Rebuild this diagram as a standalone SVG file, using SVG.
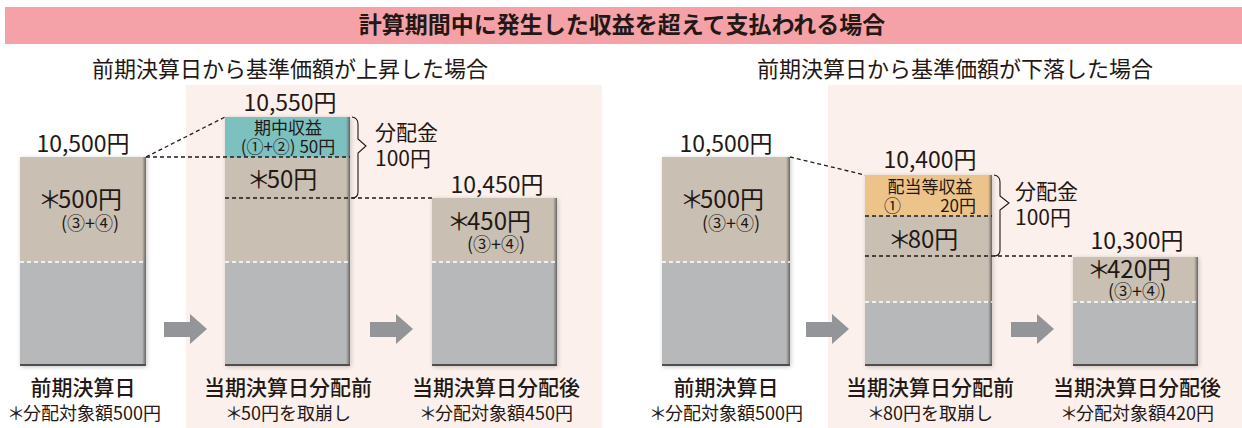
<svg xmlns="http://www.w3.org/2000/svg" width="1242" height="428" viewBox="0 0 1242 428">
<defs>
<style>
text{font-family:"Noto Sans CJK JP","Noto Sans",sans-serif;fill:#231815}
.t{font-size:23px;font-weight:bold}
.sub{font-size:22px}
.val{font-size:23px}
.bm{font-size:21px}
.big{font-size:24px}
.pc{font-size:18px}
.in{font-size:17px}
.lab{font-size:21px;font-weight:500}
.note{font-size:18px}
.tan{fill:#c9c0b3}
.gray{fill:#b7b8ba}
.teal{fill:#7cc0bf}
.ora{fill:#ecc389}
.wd{stroke:#ffffff;stroke-width:1.4;stroke-dasharray:4 3;fill:none}
.bd{stroke:#231815;stroke-width:1.3;stroke-dasharray:4 3;fill:none}
.br{stroke:#231815;stroke-width:1.1;fill:none}
.arr{fill:#939598}
.peach{fill:#fbf0eb}
.edgeR{fill:url(#gR)}
.edgeB{fill:#4f4e4c}
</style>
<linearGradient id="gR" x1="0" y1="0" x2="1" y2="0">
<stop offset="0" stop-color="#6f6c68" stop-opacity="0"/>
<stop offset="1" stop-color="#5a5855" stop-opacity="0.9"/>
</linearGradient>
<filter id="sh" x="-10%" y="-10%" width="120%" height="120%">
<feGaussianBlur in="SourceAlpha" stdDeviation="2.2"/>
<feOffset dx="1" dy="1" result="b"/>
<feFlood flood-color="#9a9a9a" flood-opacity="0.55"/>
<feComposite in2="b" operator="in"/>
<feMerge><feMergeNode/><feMergeNode in="SourceGraphic"/></feMerge>
</filter>
</defs>

<g id="background">
<rect x="5" y="7" width="1237" height="37" fill="#f4a1a7"/>
<rect class="peach" x="186" y="85" width="416" height="343"/>
<rect class="peach" x="828" y="85" width="414" height="343"/>
</g>

<g id="titles">
<text class="t" x="622" y="33" text-anchor="middle">計算期間中に発生した収益を超えて支払われる場合</text>
<text class="sub" x="290" y="77" text-anchor="middle">前期決算日から基準価額が上昇した場合</text>
<text class="sub" x="955" y="77" text-anchor="middle">前期決算日から基準価額が下落した場合</text>
</g>

<!-- LEFT CASE -->
<g id="L-prev">
<g filter="url(#sh)">
<rect class="tan" x="20" y="157" width="126" height="105"/>
<rect class="gray" x="20" y="262" width="126" height="104"/>
</g>
<rect class="edgeR" x="142" y="157" width="4" height="209"/>
<rect class="edgeB" x="20" y="364" width="126" height="2"/>
<line class="wd" x1="20" y1="262" x2="146" y2="262"/>
<text class="val" x="83" y="152" text-anchor="middle">10,500円</text>
<text class="big" x="80" y="208" text-anchor="middle">＊<tspan dx="-4">500円</tspan></text>
<text class="pc" x="90" y="230" text-anchor="middle">(③+④)</text>
<text class="lab" x="83" y="395" text-anchor="middle">前期決算日</text>
<text class="note" x="84" y="420" text-anchor="middle">＊<tspan dx="-2">分配対象額500円</tspan></text>
</g>

<g id="L-before">
<g filter="url(#sh)">
<rect class="teal" x="225" y="117" width="125" height="40"/>
<rect class="tan" x="225" y="157" width="125" height="105"/>
<rect class="gray" x="225" y="262" width="125" height="104"/>
</g>
<rect class="edgeR" x="346" y="117" width="4" height="249"/>
<rect class="edgeB" x="225" y="364" width="125" height="2"/>
<line class="wd" x1="225" y1="262" x2="350" y2="262"/>
<text class="val" x="290" y="111" text-anchor="middle">10,550円</text>
<text class="in" x="288" y="134" text-anchor="middle">期中収益</text>
<text class="in" x="288" y="153" text-anchor="middle">(①+②) 50円</text>
<text class="big" x="282" y="188" text-anchor="middle">＊<tspan dx="-4">50円</tspan></text>
<text class="bm" x="375" y="140">分配金</text>
<text class="bm" x="375" y="166">100円</text>
<text class="lab" x="288" y="395" text-anchor="middle">当期決算日分配前</text>
<text class="note" x="288" y="420" text-anchor="middle">＊<tspan dx="-2">50円を取崩し</tspan></text>
</g>

<g id="L-after">
<g filter="url(#sh)">
<rect class="tan" x="432" y="198" width="125" height="64"/>
<rect class="gray" x="432" y="262" width="125" height="104"/>
</g>
<rect class="edgeR" x="553" y="198" width="4" height="168"/>
<rect class="edgeB" x="432" y="364" width="125" height="2"/>
<line class="wd" x1="432" y1="262" x2="557" y2="262"/>
<text class="val" x="497" y="193" text-anchor="middle">10,450円</text>
<text class="big" x="489" y="230" text-anchor="middle">＊<tspan dx="-4">450円</tspan></text>
<text class="pc" x="496" y="251" text-anchor="middle">(③+④)</text>
<text class="lab" x="496" y="395" text-anchor="middle">当期決算日分配後</text>
<text class="note" x="496" y="420" text-anchor="middle">＊<tspan dx="-2">分配対象額450円</tspan></text>
</g>

<!-- RIGHT CASE -->
<g id="R-prev">
<g filter="url(#sh)">
<rect class="tan" x="662" y="157" width="128" height="105"/>
<rect class="gray" x="662" y="262" width="128" height="104"/>
</g>
<rect class="edgeR" x="786" y="157" width="4" height="209"/>
<rect class="edgeB" x="662" y="364" width="128" height="2"/>
<line class="wd" x1="662" y1="262" x2="790" y2="262"/>
<text class="val" x="726" y="152" text-anchor="middle">10,500円</text>
<text class="big" x="722" y="208" text-anchor="middle">＊<tspan dx="-4">500円</tspan></text>
<text class="pc" x="731" y="230" text-anchor="middle">(③+④)</text>
<text class="lab" x="726" y="395" text-anchor="middle">前期決算日</text>
<text class="note" x="726" y="420" text-anchor="middle">＊<tspan dx="-2">分配対象額500円</tspan></text>
</g>

<g id="R-before">
<g filter="url(#sh)">
<rect class="ora" x="865" y="175" width="127" height="41"/>
<rect class="tan" x="865" y="216" width="127" height="86"/>
<rect class="gray" x="865" y="302" width="127" height="64"/>
</g>
<rect class="edgeR" x="988" y="175" width="4" height="191"/>
<rect class="edgeB" x="865" y="364" width="127" height="2"/>
<line class="wd" x1="865" y1="302" x2="992" y2="302"/>
<line class="bd" x1="865" y1="216" x2="992" y2="216"/>
<text class="val" x="930" y="168" text-anchor="middle">10,400円</text>
<text class="in" x="930" y="193" text-anchor="middle">配当等収益</text>
<text class="in" x="884" y="212">①</text>
<text class="in" x="976" y="212" text-anchor="end">20円</text>
<text class="big" x="923" y="248" text-anchor="middle">＊<tspan dx="-4">80円</tspan></text>
<text class="bm" x="1015" y="199">分配金</text>
<text class="bm" x="1015" y="225">100円</text>
<text class="lab" x="930" y="395" text-anchor="middle">当期決算日分配前</text>
<text class="note" x="930" y="420" text-anchor="middle">＊<tspan dx="-2">80円を取崩し</tspan></text>
</g>

<g id="R-after">
<g filter="url(#sh)">
<rect class="tan" x="1073" y="257" width="125" height="45"/>
<rect class="gray" x="1073" y="302" width="125" height="64"/>
</g>
<rect class="edgeR" x="1194" y="257" width="4" height="109"/>
<rect class="edgeB" x="1073" y="364" width="125" height="2"/>
<line class="wd" x1="1073" y1="302" x2="1198" y2="302"/>
<text class="val" x="1137" y="249" text-anchor="middle">10,300円</text>
<text class="big" x="1129" y="278" text-anchor="middle">＊<tspan dx="-4">420円</tspan></text>
<text class="pc" x="1137" y="298" text-anchor="middle">(③+④)</text>
<text class="lab" x="1137" y="395" text-anchor="middle">当期決算日分配後</text>
<text class="note" x="1137" y="420" text-anchor="middle">＊<tspan dx="-2">分配対象額420円</tspan></text>
</g>

<g id="connectors">
<line class="bd" x1="146" y1="157" x2="225" y2="117"/>
<line class="bd" x1="146" y1="157" x2="350" y2="157"/>
<line class="bd" x1="225" y1="198" x2="432" y2="198"/>
<path class="br" d="M352,117 Q358,118 358,124 L358,139 L366,146 L358,153 L358,192 Q358,198 352,198"/>
<polygon class="arr" points="164,322 190,322 190,314 207,329 190,344 190,337 164,337"/>
<polygon class="arr" points="370,322 396,322 396,314 413,329 396,344 396,337 370,337"/>
<line class="bd" x1="790" y1="157" x2="865" y2="175"/>
<line class="bd" x1="865" y1="256" x2="1073" y2="256"/>
<path class="br" d="M994,175 Q1000,176 1000,182 L1000,196 L1009,203 L1000,210 L1000,250 Q1000,256 994,256"/>
<polygon class="arr" points="806,322 832,322 832,314 849,329 832,344 832,337 806,337"/>
<polygon class="arr" points="1011,322 1037,322 1037,314 1054,329 1037,344 1037,337 1011,337"/>
</g>
</svg>
